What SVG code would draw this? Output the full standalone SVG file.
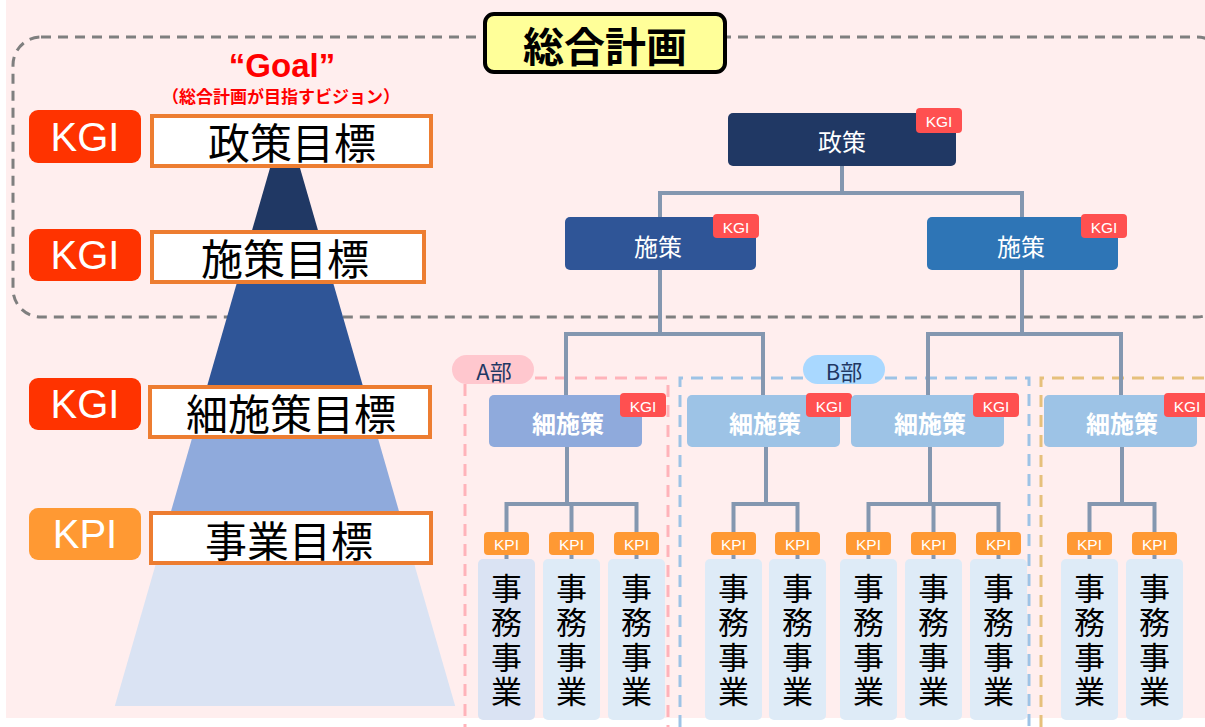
<svg xmlns="http://www.w3.org/2000/svg" width="1205" height="727" viewBox="0 0 1205 727">
<style>
.jp{font-family:"Noto Sans CJK JP","Noto Sans",sans-serif}
.lat{font-family:"Liberation Sans","Noto Sans CJK JP",sans-serif}
.big{font-size:40px;fill:#fff;text-anchor:middle;dominant-baseline:central}
.goalbox{fill:#fff;stroke:#ED7D31;stroke-width:4}
.goaltxt{font-size:42px;fill:#000;text-anchor:middle;dominant-baseline:central}
.node text{fill:#fff;text-anchor:middle;dominant-baseline:central}
.tag{font-size:15.5px;fill:#fff;text-anchor:middle;dominant-baseline:central}
.kgi{fill:#FF5050}
.kpi{fill:#FF9933}
.conn{fill:none;stroke:#8497B0;stroke-width:4}
.job{fill:#DEEBF7}
.jobt{font-size:31px;fill:#000;text-anchor:middle;dominant-baseline:central}
.dept{fill:none;stroke-width:3;stroke-dasharray:12 8}
</style>
<rect x="6" y="0" width="1199" height="718" fill="#FFEEEE"/>
<rect x="13" y="37" width="1212" height="280" rx="28" fill="none" stroke="#7F7F7F" stroke-width="3" stroke-dasharray="10 7"/>
<g id="pyramid">
<polygon points="270,168 300,168 325.7,257 244.3,257" fill="#203864"/>
<polygon points="244.3,257 325.7,257 370.4,412 199.6,412" fill="#2F5597"/>
<polygon points="199.6,412 370.4,412 406.7,538 163.3,538" fill="#8FAADC"/>
<polygon points="163.3,538 406.7,538 455.2,706 114.8,706" fill="#DAE3F3"/>
</g>
<g id="title">
<rect x="485" y="14" width="240" height="58" rx="9" fill="#FFFF99" stroke="#000" stroke-width="4"/>
<text x="605" y="44" class="jp" font-size="41" font-weight="bold" text-anchor="middle" dominant-baseline="central">総合計画</text>
</g>
<g id="goal">
<text x="282" y="77" class="lat" font-size="33" font-weight="bold" fill="#FF0000" text-anchor="middle">“Goal”</text>
<text x="281" y="95" class="jp" font-size="17" font-weight="bold" fill="#FF0000" text-anchor="middle" dominant-baseline="central">（総合計画が目指すビジョン）</text>
</g>
<g id="lv1"><rect x="29" y="110" width="112" height="53" rx="9" fill="#FF3300"/><text x="85" y="137" class="lat big">KGI</text>
<rect x="152" y="116" width="279" height="50" class="goalbox"/><text x="292" y="140" class="jp goaltxt">政策目標</text></g>
<g id="lv2"><rect x="29" y="229" width="112" height="52" rx="9" fill="#FF3300"/><text x="85" y="255" class="lat big">KGI</text>
<rect x="152" y="232" width="272" height="50" class="goalbox"/><text x="285" y="256" class="jp goaltxt">施策目標</text></g>
<g id="lv3"><rect x="29" y="378" width="112" height="52" rx="9" fill="#FF3300"/><text x="85" y="404" class="lat big">KGI</text>
<rect x="150" y="387" width="280" height="50" class="goalbox"/><text x="291" y="411" class="jp goaltxt">細施策目標</text></g>
<g id="lv4"><rect x="29" y="508" width="112" height="52" rx="9" fill="#FF9933"/><text x="85" y="534" class="lat big">KPI</text>
<rect x="151" y="513" width="280" height="50" class="goalbox"/><text x="289" y="538" class="jp goaltxt">事業目標</text></g>
<g id="departments">
<path class="dept" stroke="#FFB3BA" d="M535,378 H668 V727 M465,384 V727"/>
<rect x="452" y="355" width="82" height="29" rx="14.5" fill="#FFC7CE"/>
<text x="494" y="370" class="jp" font-size="22" fill="#1F3864" text-anchor="middle" dominant-baseline="central">A部</text>
<path class="dept" stroke="#9DC3E6" d="M680,727 V378 H803 M885,378 H1029 V727"/>
<rect x="803" y="355" width="82" height="29" rx="14.5" fill="#A9D8FF"/>
<text x="844" y="370" class="jp" font-size="22" fill="#1F3864" text-anchor="middle" dominant-baseline="central">B部</text>
<path class="dept" stroke="#E6C07B" d="M1041,727 V378 H1205"/>
</g>
<g id="connectors">
<path class="conn" d="M842,166 V193 M660,218 V193 H1022 V218"/>
<path class="conn" d="M660,270 V334 M566,395 V334 H763 V395"/>
<path class="conn" d="M1022,270 V334 M928,395 V334 H1121 V395"/>
<path class="conn" d="M567,447 V504 M506.5,559 V504 H636.5 V559 M571.5,504 V559"/>
<path class="conn" d="M766,447 V504 M733.5,559 V504 H797.5 V559"/>
<path class="conn" d="M930,447 V504 M868.5,559 V504 H998.5 V559 M933.5,504 V559"/>
<path class="conn" d="M1122,447 V504 M1089.5,559 V504 H1154.5 V559"/>
</g>
<g id="n-seisaku" class="node"><rect x="728" y="113" width="228" height="53" rx="5" fill="#203864"/><text x="842" y="140" class="jp" font-size="24">政策</text><rect x="916" y="108" width="46" height="25" rx="4" class="kgi"/><text x="939" y="121" class="lat tag">KGI</text></g>
<g id="n-shisaku-l" class="node"><rect x="565" y="217" width="191" height="53" rx="5" fill="#2F5597"/><text x="658" y="245" class="jp" font-size="24">施策</text><rect x="713" y="214" width="46" height="24" rx="4" class="kgi"/><text x="736" y="227" class="lat tag">KGI</text></g>
<g id="n-shisaku-r" class="node"><rect x="927" y="217" width="191" height="53" rx="5" fill="#2E75B6"/><text x="1021" y="245" class="jp" font-size="24">施策</text><rect x="1081" y="214" width="46" height="24" rx="4" class="kgi"/><text x="1104" y="227" class="lat tag">KGI</text></g>
<g id="n-sai-a" class="node"><rect x="489" y="395" width="153" height="52" rx="5" fill="#8FAADC"/><text x="568" y="422" class="jp" font-size="24" font-weight="bold">細施策</text><rect x="620" y="393" width="46" height="24" rx="4" class="kgi"/><text x="643" y="406" class="lat tag">KGI</text></g>
<g id="n-sai-b1" class="node"><rect x="687" y="395" width="153" height="52" rx="5" fill="#9DC3E6"/><text x="765" y="422" class="jp" font-size="24" font-weight="bold">細施策</text><rect x="806" y="393" width="46" height="24" rx="4" class="kgi"/><text x="829" y="406" class="lat tag">KGI</text></g>
<g id="n-sai-b2" class="node"><rect x="851" y="395" width="153" height="52" rx="5" fill="#9DC3E6"/><text x="930" y="422" class="jp" font-size="24" font-weight="bold">細施策</text><rect x="973" y="393" width="46" height="24" rx="4" class="kgi"/><text x="996" y="406" class="lat tag">KGI</text></g>
<g id="n-sai-c" class="node"><rect x="1044" y="395" width="153" height="52" rx="5" fill="#9DC3E6"/><text x="1122" y="422" class="jp" font-size="24" font-weight="bold">細施策</text><rect x="1164" y="393" width="46" height="24" rx="4" class="kgi"/><text x="1187" y="406" class="lat tag">KGI</text></g>
<g id="jobs">
<g id="job1"><rect x="478" y="559" width="57" height="161" rx="5" class="job" style="fill:#DAE3F3"/><rect x="484" y="532" width="45" height="23" rx="4" class="kpi"/><text x="506.5" y="544" class="lat tag">KPI</text><text class="jp jobt"><tspan x="506.5" y="586">事</tspan><tspan x="506.5" y="620">務</tspan><tspan x="506.5" y="655">事</tspan><tspan x="506.5" y="689">業</tspan></text></g>
<g id="job2"><rect x="543" y="559" width="57" height="161" rx="5" class="job"/><rect x="549" y="532" width="45" height="23" rx="4" class="kpi"/><text x="571.5" y="544" class="lat tag">KPI</text><text class="jp jobt"><tspan x="571.5" y="586">事</tspan><tspan x="571.5" y="620">務</tspan><tspan x="571.5" y="655">事</tspan><tspan x="571.5" y="689">業</tspan></text></g>
<g id="job3"><rect x="608" y="559" width="57" height="161" rx="5" class="job"/><rect x="614" y="532" width="45" height="23" rx="4" class="kpi"/><text x="636.5" y="544" class="lat tag">KPI</text><text class="jp jobt"><tspan x="636.5" y="586">事</tspan><tspan x="636.5" y="620">務</tspan><tspan x="636.5" y="655">事</tspan><tspan x="636.5" y="689">業</tspan></text></g>
<g id="job4"><rect x="705" y="559" width="57" height="161" rx="5" class="job"/><rect x="711" y="532" width="45" height="23" rx="4" class="kpi"/><text x="733.5" y="544" class="lat tag">KPI</text><text class="jp jobt"><tspan x="733.5" y="586">事</tspan><tspan x="733.5" y="620">務</tspan><tspan x="733.5" y="655">事</tspan><tspan x="733.5" y="689">業</tspan></text></g>
<g id="job5"><rect x="769" y="559" width="57" height="161" rx="5" class="job"/><rect x="775" y="532" width="45" height="23" rx="4" class="kpi"/><text x="797.5" y="544" class="lat tag">KPI</text><text class="jp jobt"><tspan x="797.5" y="586">事</tspan><tspan x="797.5" y="620">務</tspan><tspan x="797.5" y="655">事</tspan><tspan x="797.5" y="689">業</tspan></text></g>
<g id="job6"><rect x="840" y="559" width="57" height="161" rx="5" class="job"/><rect x="846" y="532" width="45" height="23" rx="4" class="kpi"/><text x="868.5" y="544" class="lat tag">KPI</text><text class="jp jobt"><tspan x="868.5" y="586">事</tspan><tspan x="868.5" y="620">務</tspan><tspan x="868.5" y="655">事</tspan><tspan x="868.5" y="689">業</tspan></text></g>
<g id="job7"><rect x="905" y="559" width="57" height="161" rx="5" class="job"/><rect x="911" y="532" width="45" height="23" rx="4" class="kpi"/><text x="933.5" y="544" class="lat tag">KPI</text><text class="jp jobt"><tspan x="933.5" y="586">事</tspan><tspan x="933.5" y="620">務</tspan><tspan x="933.5" y="655">事</tspan><tspan x="933.5" y="689">業</tspan></text></g>
<g id="job8"><rect x="970" y="559" width="57" height="161" rx="5" class="job"/><rect x="976" y="532" width="45" height="23" rx="4" class="kpi"/><text x="998.5" y="544" class="lat tag">KPI</text><text class="jp jobt"><tspan x="998.5" y="586">事</tspan><tspan x="998.5" y="620">務</tspan><tspan x="998.5" y="655">事</tspan><tspan x="998.5" y="689">業</tspan></text></g>
<g id="job9"><rect x="1061" y="559" width="57" height="161" rx="5" class="job"/><rect x="1067" y="532" width="45" height="23" rx="4" class="kpi"/><text x="1089.5" y="544" class="lat tag">KPI</text><text class="jp jobt"><tspan x="1089.5" y="586">事</tspan><tspan x="1089.5" y="620">務</tspan><tspan x="1089.5" y="655">事</tspan><tspan x="1089.5" y="689">業</tspan></text></g>
<g id="job10"><rect x="1126" y="559" width="57" height="161" rx="5" class="job"/><rect x="1132" y="532" width="45" height="23" rx="4" class="kpi"/><text x="1154.5" y="544" class="lat tag">KPI</text><text class="jp jobt"><tspan x="1154.5" y="586">事</tspan><tspan x="1154.5" y="620">務</tspan><tspan x="1154.5" y="655">事</tspan><tspan x="1154.5" y="689">業</tspan></text></g>
</g>
</svg>
